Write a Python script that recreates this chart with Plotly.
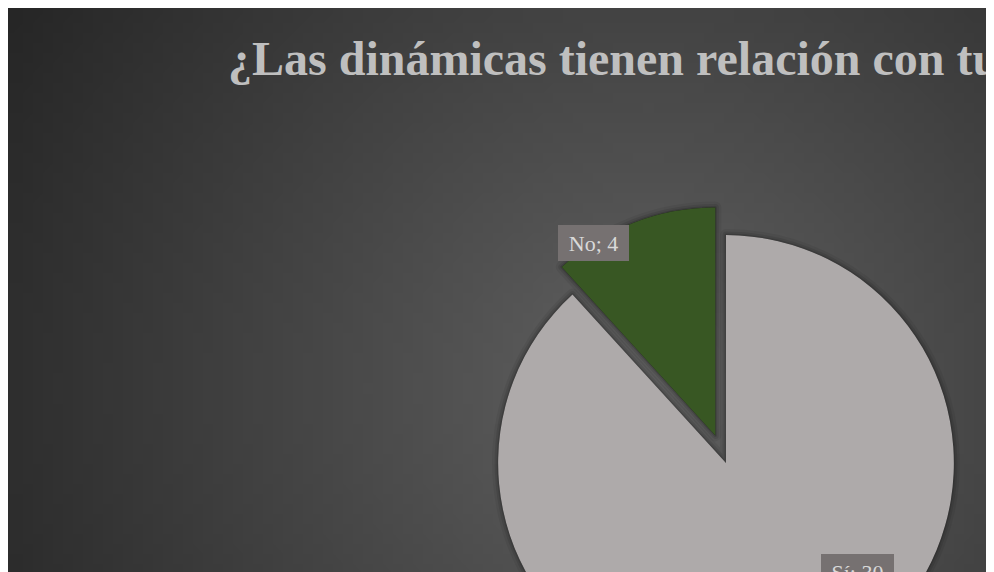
import zlib, struct, base64
import plotly.graph_objects as go

# ---- data ----
categories = ["Sí", "No"]
values = [30, 4]
title_text = "¿Las dinámicas tienen relación con tu"

slice_colors = ["#AEAAAA", "#385723"]
pull_amounts = [0, 0.13]

W, H = 1300, 800


def png_data_uri(w, h, fn):
    raw = bytearray()
    for y in range(h):
        raw.append(0)
        for x in range(w):
            raw += bytes(fn(x, y))

    def chunk(tag, data):
        c = struct.pack(">I", len(data)) + tag + data
        return c + struct.pack(">I", zlib.crc32(tag + data) & 0xFFFFFFFF)

    png = (b"\x89PNG\r\n\x1a\n"
           + chunk(b"IHDR", struct.pack(">IIBBBBB", w, h, 8, 2, 0, 0, 0))
           + chunk(b"IDAT", zlib.compress(bytes(raw), 9))
           + chunk(b"IEND", b""))
    return "data:image/png;base64," + base64.b64encode(png).decode()


GW, GH = 130, 80
cx, cy = 640, 380
half_diag = (cx ** 2 + cy ** 2) ** 0.5


def grad(x, y):
    px, py = (x + 0.5) * W / GW, (y + 0.5) * H / GH
    d = ((px - cx) ** 2 + (py - cy) ** 2) ** 0.5 / half_diag
    v = int(max(38, min(98, 98 - 60 * d)))
    return (v, v, v)


bg_uri = png_data_uri(GW, GH, grad)

# pie box (pixels in figure coords)
pie_cx, pie_cy, box = 718, 455, 515
dom_x = [(pie_cx - box / 2) / W, (pie_cx + box / 2) / W]
dom_y = [(H - pie_cy - box / 2) / H, (H - pie_cy + box / 2) / H]

fig = go.Figure()

# soft shadow layers
for lw, a in [(12, 0.06), (7, 0.09), (3, 0.13)]:
    fig.add_trace(go.Pie(
        labels=categories, values=values, sort=False, direction="clockwise",
        rotation=0, pull=pull_amounts, domain=dict(x=dom_x, y=dom_y),
        marker=dict(colors=["rgba(0,0,0,0.2)"] * len(values),
                    line=dict(color=f"rgba(0,0,0,{a})", width=lw)),
        textinfo="none", hoverinfo="skip", showlegend=False,
    ))

fig.add_trace(go.Pie(
    labels=categories, values=values, sort=False, direction="clockwise",
    rotation=0, pull=pull_amounts, domain=dict(x=dom_x, y=dom_y),
    marker=dict(colors=slice_colors, line=dict(width=0)),
    textinfo="none", hoverinfo="label+value", showlegend=False,
))

# data labels
label_pos = [(849.5, 564, 73), (585, 235, 71)]
for cat, val, (lx, ly, bw) in zip(categories, values, label_pos):
    fig.add_annotation(
        x=lx / W, y=1 - ly / H, xref="paper", yref="paper",
        text=f"{cat}; {val}", showarrow=False,
        font=dict(family="Liberation Serif, Times New Roman, serif", size=22, color="#D9D9D9"),
        bgcolor="#767171", borderpad=0, borderwidth=0, width=bw, height=36,
        xanchor="center", yanchor="middle",
    )

fig.update_layout(
    width=W, height=H,
    margin=dict(l=0, r=0, t=0, b=0),
    paper_bgcolor="#3a3a3a", plot_bgcolor="rgba(0,0,0,0)",
    images=[dict(source=bg_uri, xref="paper", yref="paper", x=0, y=1,
                 sizex=1, sizey=1, sizing="stretch", layer="below",
                 xanchor="left", yanchor="top")],
    title=dict(
        text=f"<b>{title_text}</b>",
        font=dict(family="Liberation Serif, Times New Roman, serif", size=48, color="#BFBFBF"),
        x=220 / W, xref="container", xanchor="left",
        y=1 - 50 / H, yref="container", yanchor="middle",
    ),
)

fig.write_html("out.html")
